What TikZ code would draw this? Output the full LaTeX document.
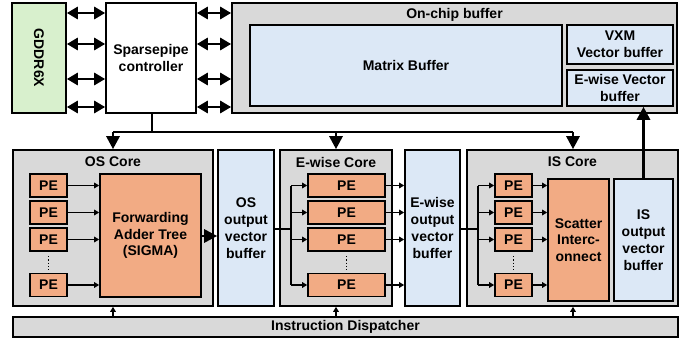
\documentclass[tikz,border=0pt]{standalone}
\usepackage{fontspec}
\setmainfont{Liberation Sans}
\usetikzlibrary{arrows.meta}
\definecolor{grayfill}{HTML}{D9D9D9}
\definecolor{bluefill}{HTML}{DCE8F6}
\definecolor{pefill}{HTML}{F2AB84}
\definecolor{greenfill}{HTML}{D8F0CD}
\tikzset{
  box/.style={draw=black, line width=1.6pt, inner sep=0pt, align=center,
    font=\bfseries\fontsize{14}{16.8}\selectfont},
  graybox/.style={box, fill=grayfill},
  bluebox/.style={box, fill=bluefill},
  orangebox/.style={box, fill=pefill},
  pebox/.style={orangebox, minimum height=23pt},
  title/.style={font=\bfseries\fontsize{14}{16.8}\selectfont, inner sep=0pt},
  biarrow/.style={line width=2.8pt, {Triangle[length=11pt,width=12pt]}-{Triangle[length=11pt,width=12pt]}},
  bigarrow/.style={line width=2.8pt, -{Triangle[length=13pt,width=13pt]}},
  smallarrow/.style={line width=1.3pt, -{Triangle[length=5pt,width=5.5pt]}},
  busline/.style={line width=2.8pt},
  thinline/.style={line width=1.5pt},
  dotline/.style={line width=1.3pt, dotted},
}
\begin{document}
\begin{tikzpicture}[x=1pt, y=-1pt]
\useasboundingbox (0,0) rectangle (694,345);

% memory side
\node[box, fill=greenfill, minimum width=54pt, minimum height=110pt] (gddr) at (39,58) {};
\node[title, rotate=-90] (gddrlbl) at (gddr.center) {GDDR6X};
\node[box, fill=white, minimum width=90pt, minimum height=110pt] (ctrl) at (151,58) {Sparsepipe\\controller};

% on-chip buffer
\node[graybox, minimum width=445pt, minimum height=110pt] (onchip) at (454.5,58) {};
\node[title] (onchiplbl) at (454.5,15) {On-chip buffer};
\node[bluebox, minimum width=312pt, minimum height=81pt] (matbuf) at (406,65.5) {Matrix Buffer};
\node[bluebox, minimum width=106pt, minimum height=39pt] (vxm) at (620,44.5) {VXM\\Vector buffer};
\node[bluebox, minimum width=106pt, minimum height=36pt] (ewvec) at (620,88) {E-wise Vector\\buffer};

% links around the controller
\foreach \yy [count=\i] in {13,44,79,107} {
  \coordinate (gl\i) at (gddr.east |- 0,\yy);
  \coordinate (cl\i) at (ctrl.west |- 0,\yy);
  \coordinate (cr\i) at (ctrl.east |- 0,\yy);
  \coordinate (ol\i) at (onchip.west |- 0,\yy);
  \draw[biarrow] (gl\i) -- (cl\i);
  \draw[biarrow] (cr\i) -- (ol\i);
}

% OS core
\node[graybox, minimum width=200pt, minimum height=156pt] (os) at (113,228) {};
\node[title] (oslbl) at (113,162) {OS Core};
\node[pebox, minimum width=37pt] (ospe1) at (48.5,185.5) {PE};
\node[pebox, minimum width=37pt] (ospe2) at (48.5,212.5) {PE};
\node[pebox, minimum width=37pt] (ospe3) at (48.5,239.5) {PE};
\node[pebox, minimum width=37pt] (ospe4) at (48.5,285) {PE};
\draw[dotline] (48.5,256) -- (48.5,270);
\node[orangebox, minimum width=101pt, minimum height=123pt] (fat) at (150.5,235.5) {Forwarding\\Adder Tree\\(SIGMA)};
\foreach \i in {1,...,4} \draw[smallarrow] (ospe\i.east) -- (fat.west |- ospe\i.east);
\node[bluebox, minimum width=56pt, minimum height=156pt] (osbuf) at (246,228) {OS\\output\\vector\\buffer};
\draw[bigarrow] (fat.east |- 0,236) -- (osbuf.west |- 0,236);

% E-wise core
\node[graybox, minimum width=112pt, minimum height=156pt] (ew) at (336,228) {};
\node[title] (ewlbl) at (336,162) {E-wise Core};
\node[pebox, minimum width=77pt] (ewpe1) at (346.5,185.5) {PE};
\node[pebox, minimum width=77pt] (ewpe2) at (346.5,212.5) {PE};
\node[pebox, minimum width=77pt] (ewpe3) at (346.5,239.5) {PE};
\node[pebox, minimum width=77pt] (ewpe4) at (346.5,285) {PE};
\draw[dotline] (346.5,256) -- (346.5,270);
\node[bluebox, minimum width=55pt, minimum height=156pt] (ewbuf) at (432.5,228) {E-wise\\output\\vector\\buffer};
\coordinate (ewbus) at (291,229);
\draw[busline] (osbuf.east |- ewbus) -- (ewbus);
\draw[thinline] (291,185.5) -- (291,285);
\foreach \i in {1,...,4} {
  \draw[smallarrow] (291,0 |- ewpe\i.west) -- (ewpe\i.west);
  \draw[smallarrow] (ewpe\i.east) -- (ewbuf.west |- ewpe\i.east);
}

% IS core
\node[graybox, minimum width=211pt, minimum height=156pt] (is) at (572.5,228) {};
\node[title] (islbl) at (572.5,162) {IS Core};
\node[pebox, minimum width=37pt] (ispe1) at (513.5,185.5) {PE};
\node[pebox, minimum width=37pt] (ispe2) at (513.5,212.5) {PE};
\node[pebox, minimum width=37pt] (ispe3) at (513.5,239.5) {PE};
\node[pebox, minimum width=37pt] (ispe4) at (513.5,285) {PE};
\draw[dotline] (513.5,256) -- (513.5,270);
\node[orangebox, minimum width=61pt, minimum height=122pt] (scat) at (578.5,240) {Scatter\\Interc-\\onnect};
\node[bluebox, minimum width=59pt, minimum height=122pt] (isbuf) at (643.5,240) {IS\\output\\vector\\buffer};
\coordinate (isbus) at (478,229);
\draw[busline] (ewbuf.east |- isbus) -- (isbus);
\draw[thinline] (478,185.5) -- (478,285);
\foreach \i in {1,...,4} {
  \draw[smallarrow] (478,0 |- ispe\i.west) -- (ispe\i.west);
  \draw[smallarrow] (ispe\i.east) -- (scat.west |- ispe\i.east);
}
\draw[bigarrow] (isbuf.north) -- (isbuf.north |- ewvec.south);

% controller to cores
\coordinate (ctrldrop) at (152,113);
\draw[busline] (ctrldrop) -- (152,132);
\draw[busline] (113,132) -- (573,132);
\draw[bigarrow] (113,132) -- (os.north -| 113,0);
\draw[bigarrow] (336,132) -- (ew.north);
\draw[bigarrow] (573,132) -- (is.north -| 573,0);

% instruction dispatcher
\node[graybox, minimum width=665pt, minimum height=20pt] (disp) at (345.5,327) {Instruction Dispatcher};
\draw[smallarrow] (disp.north -| 113,0) -- (os.south -| 113,0);
\draw[smallarrow] (disp.north -| ew.south) -- (ew.south);
\draw[smallarrow] (disp.north -| 573,0) -- (is.south -| 573,0);
\end{tikzpicture}
\end{document}
